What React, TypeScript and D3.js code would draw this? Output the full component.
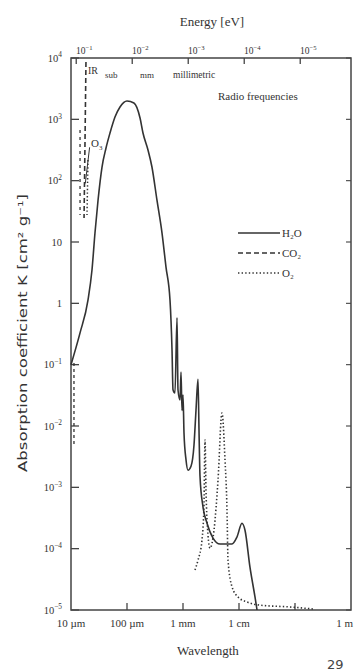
import React from "react";
import * as d3 from "d3";

// wavelength in micrometres, absorption coefficient K in cm^2 g^-1
const h2oWavelength = [
  10, 14.5, 20.1, 23.7, 26.8, 30.4, 35.8, 42.2, 49.7, 61, 75, 100, 133, 171, 193,
  237, 279, 343, 422, 497, 586, 637, 663, 719, 782, 814, 884, 921, 960, 1000,
  1042, 1132, 1228, 1390, 1572, 1706, 1853, 1931, 2013, 2275, 2685, 3436, 4580,
  7500, 9210, 11300, 12800, 15700, 19300, 21000,
];
const h2oK = [
  0.1, 0.33, 1.13, 3.5, 14, 48, 167, 341, 598, 1090, 1590, 1990, 1850, 1050, 598,
  316, 167, 48, 14, 3.9, 1.13, 0.17, 0.039, 0.0345, 0.58, 0.039, 0.0265, 0.076,
  0.018, 0.032, 0.0077, 0.0028, 0.0019, 0.0022, 0.0049, 0.018, 0.058, 0.0086,
  0.0015, 4.8e-4, 2.6e-4, 1.49e-4, 1.19e-4, 1.19e-4, 1.55e-4, 2.6e-4, 2.0e-4,
  5.0e-5, 1.63e-5, 1e-5,
];

const o2Wavelength = [
  1637, 1853, 2183, 2371, 2472, 2576, 2793, 3034, 3578, 4218, 4966, 5623, 6105,
  6365, 7500, 9590, 13900, 23700, 81500, 209000,
];
const o2K = [
  4.5e-5, 6.5e-5, 1.38e-4, 5.2e-4, 5.9e-3, 9.0e-4, 1.67e-4, 1.02e-4, 2.0e-4,
  1.3e-3, 0.0163, 2.8e-3, 4.3e-4, 6.5e-5, 2.4e-5, 1.63e-5, 1.35e-5, 1.2e-5,
  1.12e-5, 1.04e-5,
];

// CO2 band near 15 um (several dashed strokes)
const co2Wavelength = [18.5, 17.8, 17.1];
const co2K = [8600, 460, 24.6];
const co2WingWavelength = [14.5, 14.5];
const co2WingK = [670, 27.5];
const co2LowWavelength = [11.3, 11.3];
const co2LowK = [0.106, 0.0049];

// O3 dotted marks near the left edge
const o3Wavelength = [20.1, 19.3];
const o3K = [217, 27.5];

const wavelengthTicks = [10, 100, 1000, 10000, 100000, 1000000];
const wavelengthLabels = ["10 µm", "100 µm", "1 mm", "1 cm", "", "1 m"];
const kExponents = [4, 3, 2, 1, 0, -1, -2, -3, -4, -5];
const energyExponents = [-1, -2, -3, -4, -5];

const legendItems = [
  { name: "H₂O", dash: "none" },
  { name: "CO₂", dash: "5,3" },
  { name: "O₂", dash: "1.4,2.2" },
];

const ink = "#333";
const font = "'Liberation Serif', 'DejaVu Serif', serif";

function Power({ base, exp, size }) {
  return (
    <>
      {base}
      <tspan dy={-size * 0.4} fontSize={size * 0.7}>
        {String(exp).replace("-", "−")}
      </tspan>
    </>
  );
}

export default function App() {
  const width = 354;
  const height = 671;
  const left = 71;
  const right = 351;
  const top = 58;
  const bottom = 610;

  const x = d3.scaleLog().domain([10, 1e6]).range([left, right]);
  const y = d3.scaleLog().domain([1e-5, 1e4]).range([bottom, top]);

  const line = (xs, ys, curve = d3.curveMonotoneX) =>
    d3
      .line<number>()
      .x((_, i) => x(xs[i]))
      .y((_, i) => y(ys[i]))
      .curve(curve)(xs.map((d) => d));

  // photon energy (eV) -> wavelength (um)
  const energyToWavelength = (e) => 1.2398 / e;

  return (
    <div style={{ position: "absolute", left: 0, top: 0 }}>
      <svg width={width} height={height} style={{ display: "block", background: "#fff" }}>
        <text x={212} y={26} textAnchor="middle" fontFamily={font} fontSize={13} fill={ink}>
          Energy [eV]
        </text>

        {/* frame */}
        <rect
          x={left}
          y={top}
          width={right - left}
          height={bottom - top}
          fill="none"
          stroke="#444"
          strokeWidth={1.5}
        />

        {/* energy ticks on top */}
        {energyExponents.map((e) => {
          const px = x(energyToWavelength(Math.pow(10, e)));
          return (
            <g key={`e${e}`}>
              <line x1={px} x2={px} y1={top} y2={top + 6} stroke="#444" strokeWidth={1.3} />
              <text x={px + 8} y={54} textAnchor="middle" fontFamily={font} fontSize={9.5} fill={ink}>
                <Power base="10" exp={e} size={9.5} />
              </text>
            </g>
          );
        })}

        {/* K ticks left and right */}
        {kExponents.map((e) => {
          const py = y(Math.pow(10, e));
          return (
            <g key={`k${e}`}>
              <line x1={left} x2={left + 8} y1={py} y2={py} stroke="#444" strokeWidth={1.3} />
              <line x1={right - 5} x2={right} y1={py} y2={py} stroke="#444" strokeWidth={1.1} />
              <text
                x={62}
                y={py + 3.5}
                textAnchor="end"
                fontFamily={font}
                fontSize={10.5}
                fill={ink}
              >
                {e === 0 ? "1" : e === 1 ? "10" : <Power base="10" exp={e} size={10.5} />}
              </text>
            </g>
          );
        })}

        {/* wavelength ticks */}
        {wavelengthTicks.map((w, i) => {
          const px = x(w);
          const last = i === wavelengthTicks.length - 1;
          return (
            <g key={`w${w}`}>
              {i > 0 && !last && (
                <line x1={px} x2={px} y1={bottom} y2={bottom - 7} stroke="#444" strokeWidth={1.3} />
              )}
              <text
                x={last ? width - 1 : px}
                y={627}
                textAnchor={last ? "end" : "middle"}
                fontFamily={font}
                fontSize={11}
                fill={ink}
              >
                {wavelengthLabels[i]}
              </text>
            </g>
          );
        })}

        <text x={208} y={655} textAnchor="middle" fontFamily={font} fontSize={13} fill={ink}>
          Wavelength
        </text>
        <text
          transform={`translate(27, 333) rotate(-90)`}
          textAnchor="middle"
          fontFamily="'DejaVu Sans', sans-serif"
          fontSize={12.5}
          textLength={278}
          lengthAdjust="spacingAndGlyphs"
          fill={ink}
        >
          Absorption coefficient K [cm² g⁻¹]
        </text>

        {/* region labels */}
        <text x={88} y={74} fontFamily={font} fontSize={10} fill={ink}>
          IR
        </text>
        <text x={105} y={78} fontFamily={font} fontSize={9} fill={ink}>
          sub
        </text>
        <text x={140} y={78} fontFamily={font} fontSize={9} fill={ink}>
          mm
        </text>
        <text x={173} y={78} fontFamily={font} fontSize={9.5} fill={ink}>
          millimetric
        </text>
        <text x={218} y={100} fontFamily={font} fontSize={11} fill={ink}>
          Radio frequencies
        </text>

        {/* curves */}
        <path d={line(h2oWavelength, h2oK)} fill="none" stroke={ink} strokeWidth={1.6} />
        <path
          d={line(co2Wavelength, co2K, d3.curveLinear)}
          fill="none"
          stroke={ink}
          strokeWidth={1.6}
          strokeDasharray="5,3"
        />
        <path
          d={line(co2WingWavelength, co2WingK, d3.curveLinear)}
          fill="none"
          stroke={ink}
          strokeWidth={1.3}
          strokeDasharray="3,4"
        />
        <path
          d={line(co2LowWavelength, co2LowK, d3.curveLinear)}
          fill="none"
          stroke={ink}
          strokeWidth={1.3}
          strokeDasharray="3,3"
        />
        <path
          d={line(o3Wavelength, o3K, d3.curveLinear)}
          fill="none"
          stroke={ink}
          strokeWidth={1.5}
          strokeDasharray="1.4,2.2"
        />
        <path
          d={line(o2Wavelength, o2K)}
          fill="none"
          stroke={ink}
          strokeWidth={1.6}
          strokeDasharray="1.4,2.2"
        />

        {/* O3 label with leader */}
        <line x1={x(21.5)} y1={y(350)} x2={x(18)} y2={y(90)} stroke={ink} strokeWidth={1} />
        <text x={91} y={147} fontFamily={font} fontSize={11} fill={ink}>
          O<tspan dy={3} fontSize={7}>3</tspan>
        </text>

        {/* legend */}
        {legendItems.map((d, i) => {
          const ly = 233 + i * 20;
          return (
            <g key={d.name}>
              <line
                x1={238}
                x2={280}
                y1={ly}
                y2={ly}
                stroke={ink}
                strokeWidth={1.5}
                strokeDasharray={d.dash}
              />
              <text x={282} y={ly + 4} fontFamily={font} fontSize={11} fill={ink}>
                {d.name}
              </text>
            </g>
          );
        })}

        <text x={327} y={669} fontFamily="'DejaVu Sans', sans-serif" fontSize={13} fill="#444">
          29
        </text>
      </svg>
    </div>
  );
}
